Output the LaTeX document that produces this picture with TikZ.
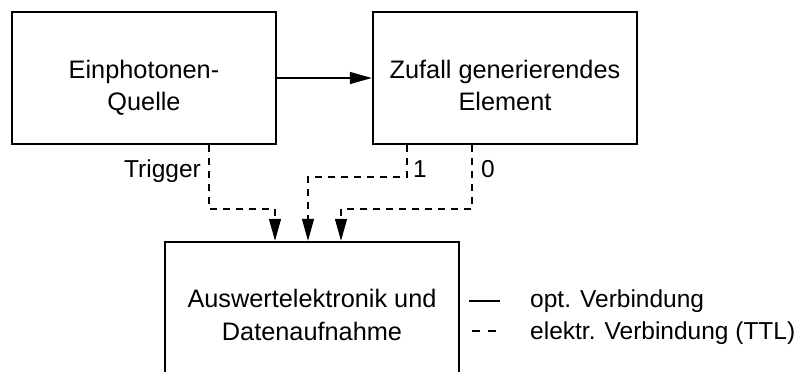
\documentclass[tikz,border=0pt]{standalone}
\usepackage{fontspec}
\setmainfont{Liberation Sans}
\usetikzlibrary{arrows.meta}
\begin{document}
\begin{tikzpicture}[x=1pt,y=-1pt,
  box/.style={draw, line width=2.4pt, minimum width=264pt, minimum height=132pt, inner sep=0pt},
  txt/.style={inner sep=0pt, anchor=base, font=\fontsize{24.5}{29}\selectfont},
  boxtxt/.style={txt, font=\fontsize{25.3}{30}\selectfont},
  optic/.style={line width=1.4pt, -{Triangle[length=22pt,width=12pt]}},
  elec/.style={line width=1.4pt, dash pattern=on 7pt off 6pt, -{Triangle[length=22pt,width=12pt]}},
  legsolid/.style={line width=1.2pt},
  legdash/.style={line width=1.2pt, dash pattern=on 8pt off 8pt}]
  \clip (0,0) rectangle (803,372);

  % blocks
  \node[box] (src)  at (144,78) {};
  \node[box] (rng)  at (505,78) {};
  \node[box, minimum width=294pt] (eval) at (312,308) {};

  \node[boxtxt] (src1)  at (144,78)  {Einphotonen-};
  \node[boxtxt] (src2)  at (144,110) {Quelle};
  \node[boxtxt] (rng1)  at (505,78)  {Zufall generierendes};
  \node[boxtxt] (rng2)  at (505,110) {Element};
  \node[boxtxt] (eval1) at (312,307) {Auswertelektronik und};
  \node[boxtxt] (eval2) at (312,340) {Datenaufnahme};

  % optical path
  \draw[optic] (src.east) -- (rng.west);

  % electrical signals
  \coordinate (xT) at (209,0);
  \coordinate (x1) at (407,0);
  \coordinate (x0) at (472,0);
  \coordinate (a1) at (275,0);
  \coordinate (a2) at (308,0);
  \coordinate (a3) at (341,0);
  \coordinate (yA) at (0,209);
  \coordinate (yB) at (0,177);

  \draw[elec] (src.south -| xT) |- (yA -| a1) -- (eval.north -| a1);
  \draw[elec] (rng.south -| x1) |- (yB -| a2) -- (eval.north -| a2);
  \draw[elec] (rng.south -| x0) |- (yA -| a3) -- (eval.north -| a3);

  \node[txt, anchor=base east] (trig) at (201,177) {Trigger};
  \node[txt] (one)  at (420,177) {1};
  \node[txt] (zero) at (488,177) {0};

  % legend
  \coordinate (ls1) at (469,301);
  \coordinate (ls2) at (500,301);
  \coordinate (ld1) at (472,331);
  \coordinate (ld2) at (500,331);
  \draw[legsolid] (ls1) -- (ls2);
  \draw[legdash] (ld1) -- (ld2);
  \node[txt, anchor=base west] (leg1) at (530,307) {opt. Verbindung};
  \node[txt, anchor=base west] (leg2) at (530,339) {elektr. Verbindung (TTL)};
\end{tikzpicture}
\end{document}
